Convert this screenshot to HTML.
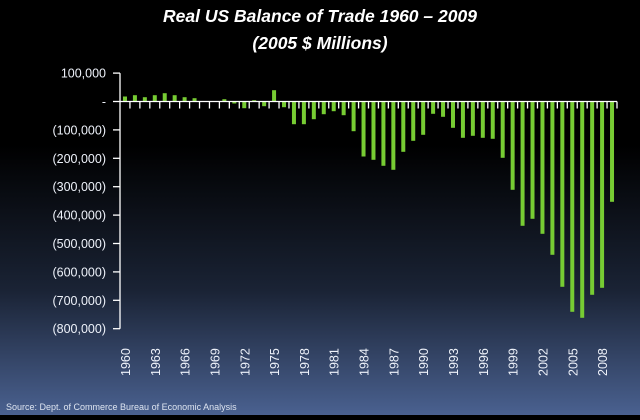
<!DOCTYPE html>
<html><head><meta charset="utf-8"><style>
html,body{margin:0;padding:0}
body{width:640px;height:415px;overflow:hidden;background:linear-gradient(to bottom,#000 0%,#000 35%,#1a2335 70%,#4a6190 100%);font-family:"Liberation Sans",sans-serif}
</style></head><body>
<svg width="640" height="415" xmlns="http://www.w3.org/2000/svg">
<text x="320" y="22" fill="#fff" font-size="17.5" font-weight="bold" font-style="italic" text-anchor="middle">Real US Balance of Trade 1960 – 2009</text>
<text x="320" y="49" fill="#fff" font-size="17.5" font-weight="bold" font-style="italic" text-anchor="middle">(2005 $ Millions)</text>
<g fill="#eef2fa" font-size="12.5" text-anchor="end" id="yl"></g>
<g id="bars" fill="#77cc33"></g>
<g id="ax" stroke="#fff" stroke-width="1.3" fill="none"></g>
<g id="xl" fill="#eef2fa" font-size="12.5"></g>
<text x="6" y="410" fill="#dde4f0" font-size="9">Source: Dept. of Commerce Bureau of Economic Analysis</text>
</svg>
<script>
var ns="http://www.w3.org/2000/svg";
function el(p,t,a,txt){var e=document.createElementNS(ns,t);for(var k in a)e.setAttribute(k,a[k]);if(txt)e.textContent=txt;document.getElementById(p).appendChild(e);}
var z=101.5,s=28.4;
var labs=["100,000","-","(100,000)","(200,000)","(300,000)","(400,000)","(500,000)","(600,000)","(700,000)","(800,000)"];
for(var i=0;i<10;i++){var y=z+(i-1)*s;el("yl","text",{x:106,y:y+4.5},labs[i]);el("ax","line",{x1:113,x2:120,y1:y,y2:y});}
el("ax","line",{x1:120,x2:120,y1:z-s,y2:z+8*s});
el("ax","line",{x1:120,x2:617,y1:z,y2:z});
var v=[5,6.3,4.3,6.3,8.3,6.3,4.3,3.3,0,0,2.3,-2,-6.7,1.3,-4.7,11.3,-5.7,-22.7,-22.7,-17.7,-12.7,-9.7,-13.7,-29.7,-55,-58.3,-64.3,-68.3,-50.3,-39.3,-33.3,-12.3,-15.3,-26.3,-36.3,-34.3,-36.3,-37.3,-56.3,-88.3,-124.3,-117.3,-132.3,-153.3,-185.3,-210.3,-216.3,-193.3,-186.3,-100.3];
var w=9.94;
for(var i=0;i<50;i++){var cx=120+w*(i+0.5);var h=v[i];
if(h!=0)el("bars","rect",{x:cx-2,y:h>0?z-h:z,width:4,height:Math.abs(h)});
var tx=120+w*(i+1);el("ax","line",{x1:tx,x2:tx,y1:z,y2:z+7});
if(i%3==0)el("xl","text",{transform:"translate("+(cx+5)+",376) rotate(-90)"},String(1960+i));}
</script>
</body></html>
